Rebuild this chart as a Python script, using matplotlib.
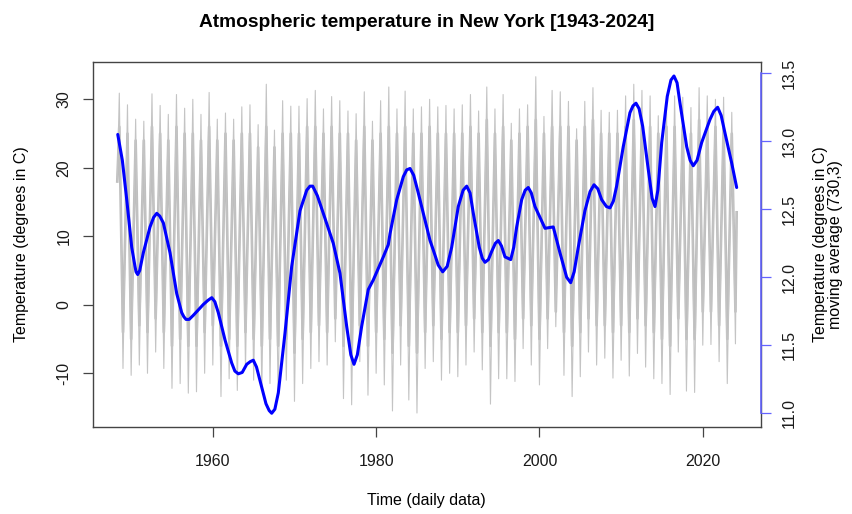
import matplotlib.pyplot as plt
import numpy as np

plt.rcParams['font.family'] = ['Liberation Sans', 'DejaVu Sans']
plt.rcParams['axes.unicode_minus'] = False

# yearly extremes of the daily series
summer_years = np.arange(1948, 2024)
summer_max = [30.9, 29.2, 27.1, 26.8, 30.8, 29.1, 27.8, 30.7, 28.7, 30.0, 27.8, 31.0, 27.1,
              28.0, 27.1, 28.9, 29.2, 26.3, 32.2, 25.5, 29.8, 29.0, 29.0, 30.1, 31.3, 28.6,
              30.4, 29.8, 28.3, 27.9, 31.1, 26.8, 29.8, 31.8, 28.6, 31.2, 28.6, 28.9, 30.0,
              28.9, 29.1, 28.6, 29.2, 30.7, 28.3, 31.8, 28.6, 30.7, 26.5, 28.6, 29.2, 33.3, 27.5,
              31.3, 31.1, 29.7, 25.7, 29.7, 31.7, 28.4, 28.1, 28.4, 30.5, 32.2, 31.3, 30.5,
              27.6, 29.0, 30.5, 30.3, 28.8, 31.7, 30.5, 30.0, 30.3, 28.1]
winter_years = np.arange(1949, 2025)
winter_min = [-9.3, -10.3, -8.8, -10.0, -6.9, -9.3, -12.2, -11.5, -12.9, -12.7, -10.0, -8.8, -13.4,
              -10.8, -12.5, -9.3, -11.0, -12.5, -11.5, -13.5, -11.0, -14.1, -11.5, -9.3, -8.3, -8.8,
              -5.4, -13.7, -14.6, -8.3, -13.2, -10.0, -11.7, -15.5, -8.8, -13.9, -15.8, -9.3, -8.3,
              -11.0, -10.0, -10.5, -8.8, -6.9, -9.5, -14.5, -10.8, -10.8, -11.2, -6.4, -8.8, -11.7,
              -6.4, -3.2, -10.3, -13.4, -10.5, -6.9, -8.8, -7.8, -10.7, -8.1, -10.4, -7.1,
              -9.1, -10.8, -11.5, -13.1, -6.9, -12.6, -12.8, -5.9, -5.8, -8.3, -11.5, -5.7]

# where the bulk of the daily values sit (dense part of the grey band)
band_hi = [26, 25, 24, 24, 26, 25, 24, 26, 25, 25, 24, 26, 24, 25, 24, 25, 25, 23, 26, 23, 25, 25, 25, 26, 26, 25,
           26, 25, 25, 24, 26, 24, 25, 26, 25, 26, 25, 25, 26, 25, 25, 25, 25, 26, 25, 27, 25, 26, 24, 25, 26, 27, 25,
           26, 26, 26, 24, 26, 27, 25, 25, 25, 26, 27, 27, 26, 25, 26, 26, 26, 25, 27, 26, 26, 26, 25]
band_lo = [-4, -5, -3, -4, -2, -4, -6, -5, -6, -6, -4, -3, -6, -5, -6, -4, -5, -6, -5, -6, -5, -7, -5, -4, -3, -4,
           -2, -6, -7, -3, -6, -4, -5, -7, -3, -6, -7, -4, -3, -5, -4, -4, -3, -2, -4, -6, -4, -4, -5, -2, -3, -5,
           -2, -1, -4, -6, -4, -2, -3, -3, -4, -3, -4, -2, -3, -4, -5, -6, -2, -5, -5, -1, -1, -3, -5, -1]
series_start = (1948.3, 18.0)
series_end = (2024.15, 13.5)

# moving average (730,3)
ma_years = [1948.36, 1948.92, 1949.46, 1950.07, 1950.47, 1950.6, 1950.80, 1951.05, 1951.49, 1952.31,
            1952.75, 1953.13, 1953.5, 1953.94, 1954.76, 1955.58, 1956.19, 1956.45, 1956.72, 1957.1,
            1957.61, 1958.84, 1959.4, 1959.87, 1960.25, 1960.67, 1961.49, 1962.31, 1962.7, 1963.12,
            1963.6, 1964.15, 1964.6, 1964.96, 1965.35, 1965.78, 1966.51, 1966.9, 1967.21, 1967.6,
            1968.02, 1968.84, 1969.66, 1970.68, 1971.50, 1971.9, 1972.23, 1972.8, 1973.53, 1974.75,
            1975.57, 1976.39, 1976.9, 1977.29, 1977.7, 1978.23, 1979.04, 1979.65, 1980.88, 1981.49,
            1981.70, 1982.52, 1983.33, 1983.75, 1984.15, 1984.6, 1985.16, 1985.98, 1986.60, 1987.00,
            1987.6, 1988.15, 1988.7, 1989.25, 1990.06, 1990.65, 1991.09, 1991.5, 1991.90, 1992.63,
            1993.0, 1993.33, 1993.75, 1994.15, 1994.6, 1994.96, 1995.35, 1995.78, 1996.48, 1996.85,
            1997.21, 1997.82, 1998.25, 1998.63, 1999.0, 1999.45, 2000.68, 2001.69, 2002.51, 2003.33,
            2003.82, 2004.25, 2004.75, 2005.57, 2006.2, 2006.68, 2007.15, 2007.62, 2008.2, 2008.64,
            2009.05, 2009.45, 2010.26, 2011.08, 2011.45, 2011.82, 2012.2, 2012.64, 2013.33, 2013.8,
            2014.15, 2014.5, 2014.97, 2015.65, 2016.1, 2016.47, 2016.85, 2017.21, 2018.03, 2018.45,
            2018.83, 2019.3, 2019.86, 2020.88, 2021.35, 2021.82, 2022.25, 2022.72, 2023.54, 2024.15]
ma_values = [13.05, 12.86, 12.57, 12.22, 12.08, 12.04, 12.02, 12.05, 12.18, 12.37,
             12.44, 12.47, 12.45, 12.40, 12.18, 11.88, 11.74, 11.71, 11.69, 11.69,
             11.72, 11.80, 11.83, 11.85, 11.82, 11.74, 11.54, 11.37, 11.31, 11.29,
             11.30, 11.36, 11.38, 11.39, 11.34, 11.24, 11.07, 11.02, 11.00, 11.03,
             11.15, 11.59, 12.08, 12.49, 12.64, 12.67, 12.67, 12.60, 12.47, 12.25,
             12.03, 11.64, 11.43, 11.36, 11.43, 11.64, 11.91, 11.98, 12.15, 12.24,
             12.32, 12.57, 12.74, 12.79, 12.80, 12.75, 12.62, 12.42, 12.27, 12.20,
             12.09, 12.04, 12.08, 12.22, 12.52, 12.64, 12.67, 12.62, 12.47, 12.22,
             12.14, 12.11, 12.13, 12.19, 12.25, 12.27, 12.23, 12.15, 12.13, 12.22,
             12.37, 12.57, 12.64, 12.66, 12.62, 12.52, 12.36, 12.37, 12.18, 12.00,
             11.96, 12.04, 12.22, 12.49, 12.63, 12.68, 12.65, 12.57, 12.52, 12.51,
             12.56, 12.67, 12.96, 13.21, 13.26, 13.28, 13.24, 13.11, 12.79, 12.58,
             12.52, 12.64, 12.99, 13.33, 13.45, 13.48, 13.43, 13.28, 12.96, 12.86,
             12.82, 12.86, 12.99, 13.16, 13.22, 13.25, 13.19, 13.06, 12.84, 12.66]


def seasonal_path(hi, lo):
    t = np.column_stack((summer_years + 0.55, winter_years + 0.0)).ravel()
    v = np.column_stack((hi, lo)).ravel()
    t = np.concatenate(([series_start[0]], t, [series_end[0]]))
    v = np.concatenate(([series_start[1]], v, [series_end[1]]))
    return t, v


fig = plt.figure(figsize=(8.52, 5.14), dpi=100)
ax = fig.add_axes([0.1086, 0.1693, 0.7846, 0.7101])

bt, bv = seasonal_path(band_hi, band_lo)
ax.plot(bt, bv, color='#BEBEBE', lw=1.9)
t, v = seasonal_path(summer_max, winter_min)
ax.plot(t, v, color='#C4C4C4', lw=0.8)

ax.set_xlim(1945.27, 2027.13)
ax.set_ylim(-17.84, 35.45)
ax.set_xticks([1960, 1980, 2000, 2020])
ax.set_yticks([-10, 0, 10, 20, 30])
for s in ax.spines.values():
    s.set_color('#444444')
    s.set_linewidth(1.0)
ax.tick_params(direction='out', length=7.2, width=0.9, color='#444444',
               labelsize=11.5, labelcolor='#1a1a1a')
ax.tick_params(axis='x', pad=12)
ax.tick_params(axis='y', pad=8, labelrotation=90)
for lab in ax.get_yticklabels():
    lab.set_va('center')

ax2 = ax.twinx()
ax2.plot(ma_years, ma_values, color='#0000FF', lw=2.2,
         solid_joinstyle='round', solid_capstyle='round')
ax2.set_ylim(10.899, 13.583)
ax2.set_yticks([11.0, 11.5, 12.0, 12.5, 13.0, 13.5])
ax2.yaxis.set_major_formatter('{x:.1f}')
for side in ['left', 'top', 'bottom']:
    ax2.spines[side].set_visible(False)
ax2.spines['right'].set_bounds(11.0, 13.5)
ax2.spines['right'].set_color('#6464FF')
ax2.spines['right'].set_linewidth(1.2)
ax2.tick_params(axis='y', direction='out', length=7.2, width=0.9, color='#6464FF',
                labelsize=11.5, labelcolor='#1a1a1a', pad=7.5, labelrotation=90)
for lab in ax2.get_yticklabels():
    lab.set_va('center')

fig.text(0.501, 0.957, 'Atmospheric temperature in New York [1943-2024]',
         ha='center', va='center', fontsize=13.8, fontweight='bold')
fig.text(0.501, 0.027, 'Time (daily data)', ha='center', va='center', fontsize=11.5)
fig.text(0.0258, 0.5243, 'Temperature (degrees in C)', rotation=90,
         ha='center', va='center', fontsize=11.5)
fig.text(0.9718, 0.5243, 'Temperature (degrees in C)\nmoving average (730,3)', rotation=90,
         ha='center', va='center', fontsize=11.5, linespacing=0.95, multialignment='center')

fig.savefig('out.png', dpi=100)
